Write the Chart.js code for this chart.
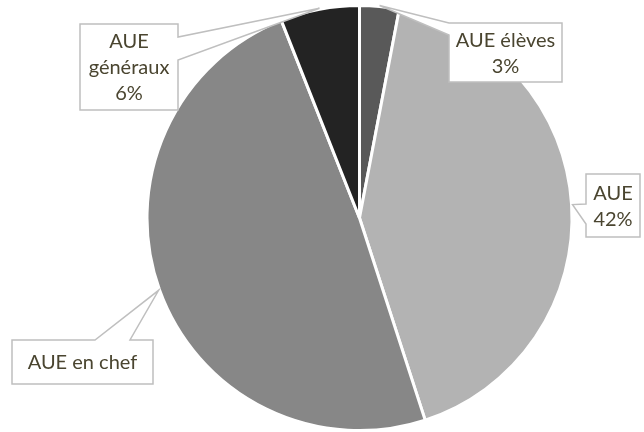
<!DOCTYPE html>
<html>
<head>
<meta charset="utf-8">
<script src="https://cdn.jsdelivr.net/npm/chart.js@4"></script>
<style>
  html, body { margin: 0; padding: 0; background: #fff; }
  #wrap { width: 644px; height: 432px; }
</style>
</head>
<body>
<div id="wrap"><canvas id="pieChart" width="644" height="432"></canvas></div>
<script>
// data (clockwise from 12 o'clock)
const categories = ['AUE élèves', 'AUE', 'AUE en chef', 'AUE généraux'];
const labelLines = [['AUE élèves'], ['AUE'], ['AUE en chef'], ['AUE', 'généraux']];
const values     = [3, 42, 49, 6];
const showPct    = [true, true, false, true];
const sliceColors = ['#595959', '#b3b3b3', '#878787', '#232323'];

// callout boxes: box rect + which side the pointer leaves from
const callouts = [
    { x: 449, y: 23, w: 113, h: 59, side: 'left',  a: 23,  b: 35 },
    { x: 586, y: 174, w: 54, h: 63, side: 'left',  a: 204, b: 224 },
    { x: 12,  y: 340, w: 141, h: 44, side: 'top',   a: 95,  b: 130 },
    { x: 80,  y: 24,  w: 98, h: 86, side: 'right', a: 37,  b: 60 }
];

const total = values.reduce((s, v) => s + v, 0);

const calloutPlugin = {
    id: 'callouts',
    afterDatasetsDraw(chart) {
        const ctx = chart.ctx;
        const meta = chart.getDatasetMeta(0);
        meta.data.forEach((arc, i) => {
            const c = callouts[i];
            const p = arc.getProps(['x', 'y', 'startAngle', 'endAngle', 'outerRadius'], true);
            const mid = (p.startAngle + p.endAngle) / 2;
            const tx = p.x + Math.cos(mid) * (p.outerRadius + 1);
            const ty = p.y + Math.sin(mid) * (p.outerRadius + 1);
            const x0 = c.x, y0 = c.y, x1 = c.x + c.w, y1 = c.y + c.h;

            ctx.save();
            ctx.beginPath();
            if (c.side === 'left') {
                ctx.moveTo(x0, y0); ctx.lineTo(x1, y0); ctx.lineTo(x1, y1); ctx.lineTo(x0, y1);
                ctx.lineTo(x0, c.b); ctx.lineTo(tx, ty); ctx.lineTo(x0, c.a);
            } else if (c.side === 'right') {
                ctx.moveTo(x0, y0); ctx.lineTo(x1, y0); ctx.lineTo(x1, c.a); ctx.lineTo(tx, ty);
                ctx.lineTo(x1, c.b); ctx.lineTo(x1, y1); ctx.lineTo(x0, y1);
            } else {
                ctx.moveTo(x0, y0); ctx.lineTo(c.a, y0); ctx.lineTo(tx, ty); ctx.lineTo(c.b, y0);
                ctx.lineTo(x1, y0); ctx.lineTo(x1, y1); ctx.lineTo(x0, y1);
            }
            ctx.closePath();
            ctx.fillStyle = '#ffffff';
            ctx.fill();
            ctx.strokeStyle = '#bfbfbf';
            ctx.lineWidth = 1.5;
            ctx.stroke();

            const lines = labelLines[i].slice();
            if (showPct[i]) lines.push(Math.round(values[i] / total * 100) + '%');
            const lh = 26;
            const cx = x0 + c.w / 2;
            const cy = y0 + c.h / 2;
            ctx.fillStyle = '#4a4530';
            ctx.font = '20px Lato';
            ctx.textAlign = 'center';
            ctx.textBaseline = 'middle';
            lines.forEach((t, k) => {
                ctx.fillText(t, cx, cy + (k - (lines.length - 1) / 2) * lh + 1);
            });
            ctx.restore();
        });
    }
};

new Chart(document.getElementById('pieChart').getContext('2d'), {
    type: 'pie',
    data: {
        labels: categories,
        datasets: [{
            data: values,
            backgroundColor: sliceColors,
            borderColor: '#ffffff',
            borderWidth: 3
        }]
    },
    options: {
        responsive: false,
        animation: false,
        layout: { padding: { left: 145, right: 70, top: 4, bottom: -1 } },
        plugins: {
            legend: { display: false },
            tooltip: { enabled: false }
        }
    },
    plugins: [calloutPlugin]
});
</script>
</body>
</html>
